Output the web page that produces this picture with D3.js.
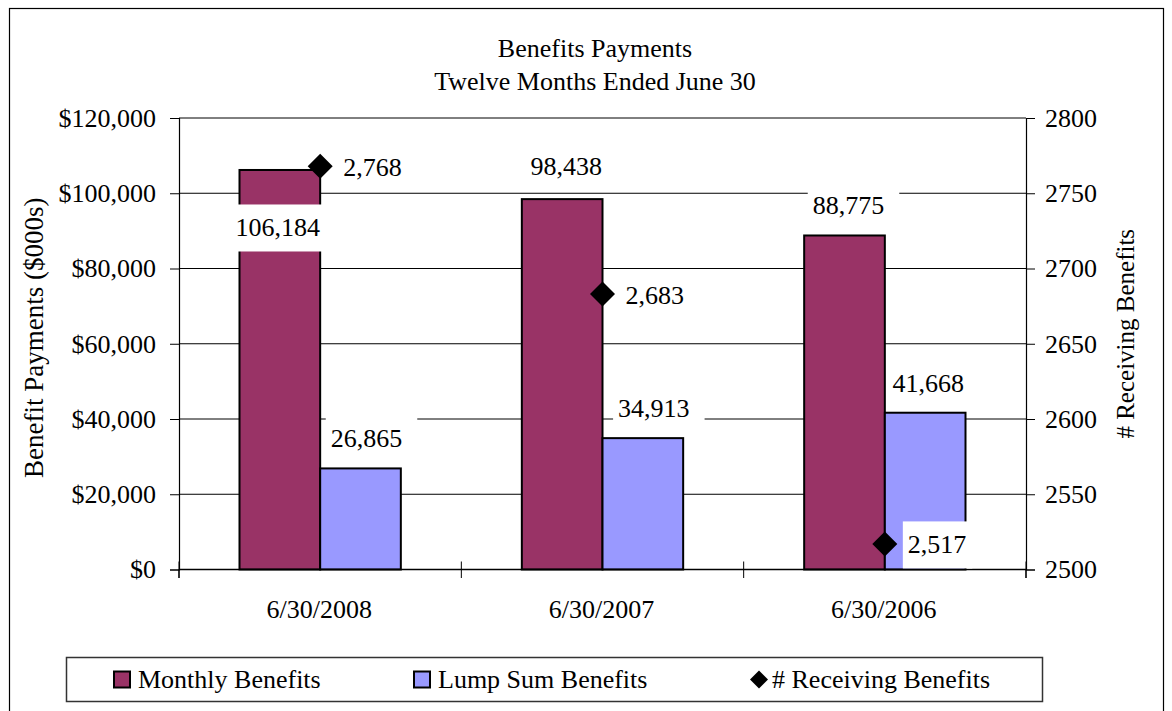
<!DOCTYPE html>
<html>
<head>
<meta charset="utf-8">
<script src="https://cdn.jsdelivr.net/npm/d3@7/dist/d3.min.js"></script>
<style>
  html, body { margin: 0; padding: 0; background: #fff; }
  svg { display: block; }
  text { font-family: "Liberation Serif", "Times New Roman", serif; fill: #000; }
</style>
</head>
<body>
<svg id="chart" width="1172" height="711"></svg>
<script>
// Benefits payments by fiscal year end
const categories = ["6/30/2008", "6/30/2007", "6/30/2006"];
const monthlyBenefits = [106184, 98438, 88775];     // $000s
const lumpSumBenefits = [26865, 34913, 41668];      // $000s
const receivingBenefits = [2768, 2683, 2517];       // count
const leftTicks = [0, 20000, 40000, 60000, 80000, 100000, 120000];
const rightTicks = [2500, 2550, 2600, 2650, 2700, 2750, 2800];
const seriesNames = ["Monthly Benefits", "Lump Sum Benefits", "# Receiving Benefits"];

// label nudges (dx, dy from the default spot) for the bar value labels
const monthlyNudge = [[-2, 58], [4, -33], [4, -30]];
const lumpNudge = [[6, -30], [11, -30], [3, -29]];

const svg = d3.select("#chart");
const FONT = 26;
const colors = { monthly: "#993366", lump: "#9999FF" };

const plot = { left: 179, right: 1026, top: 118, bottom: 569.5 };

// outer chart frame
svg.append("rect")
  .attr("x", 9.5).attr("y", 8.5)
  .attr("width", 1154).attr("height", 720)
  .attr("fill", "#fff").attr("stroke", "#000").attr("stroke-width", 1.2);

// scales
const x0 = d3.scaleBand().domain(categories).range([plot.left, plot.right]).padding(0);
const x1 = d3.scaleBand().domain(["monthly", "lump"]).range([0, x0.bandwidth()])
  .paddingInner(0).paddingOuter(0.75);
const yLeft = d3.scaleLinear().domain([0, 120000]).range([plot.bottom, plot.top]);
const yRight = d3.scaleLinear().domain([2500, 2800]).range([plot.bottom, plot.top]);

// title
const title = svg.append("text")
  .attr("x", 595).attr("text-anchor", "middle")
  .style("font-size", FONT + "px");
title.append("tspan").attr("x", 595).attr("y", 57).text("Benefits Payments");
title.append("tspan").attr("x", 595).attr("y", 90).text("Twelve Months Ended June 30");

// gridlines
svg.append("g").selectAll("line").data(leftTicks.filter(d => d > 0)).join("line")
  .attr("x1", plot.left).attr("x2", plot.right)
  .attr("y1", d => yLeft(d)).attr("y2", d => yLeft(d))
  .attr("stroke", "#000").attr("stroke-width", 1);

// left axis
const leftAxis = d3.axisLeft(yLeft).tickValues(leftTicks)
  .tickFormat(d => "$" + d3.format(",")(d)).tickSize(9).tickPadding(14);
const gL = svg.append("g").attr("transform", `translate(${plot.left},0)`).call(leftAxis);
gL.select(".domain").attr("stroke", "#000").attr("stroke-width", 1.2);
gL.selectAll(".tick line").attr("stroke", "#000");
gL.selectAll(".tick text").style("font-size", FONT + "px")
  .style("font-family", '"Liberation Serif", "Times New Roman", serif').attr("fill", "#000");

// right axis
const rightAxis = d3.axisRight(yRight).tickValues(rightTicks)
  .tickFormat(d3.format("d")).tickSize(9).tickPadding(10);
const gR = svg.append("g").attr("transform", `translate(${plot.right},0)`).call(rightAxis);
gR.select(".domain").attr("stroke", "#000").attr("stroke-width", 1.2);
gR.selectAll(".tick line").attr("stroke", "#000");
gR.selectAll(".tick text").style("font-size", FONT + "px")
  .style("font-family", '"Liberation Serif", "Times New Roman", serif').attr("fill", "#000");

// extend the side axes down to the category tick length
[plot.left, plot.right].forEach(xv => {
  svg.append("line").attr("x1", xv).attr("x2", xv)
    .attr("y1", plot.bottom).attr("y2", plot.bottom + 8.5)
    .attr("stroke", "#000").attr("stroke-width", 1.2);
});

// category axis with crossing ticks on band boundaries
const bounds = categories.map(c => x0(c)).concat([plot.right]);
svg.append("g").selectAll("line").data(bounds).join("line")
  .attr("x1", d => d).attr("x2", d => d)
  .attr("y1", plot.bottom - 8).attr("y2", plot.bottom + 8.5)
  .attr("stroke", "#000").attr("stroke-width", 1);
svg.append("g").selectAll("text").data(categories).join("text")
  .attr("x", d => x0(d) + x0.bandwidth() / 2 - 1)
  .attr("y", plot.bottom + 48)
  .attr("text-anchor", "middle")
  .style("font-size", FONT + "px")
  .text(d => d);

// bars
const barData = [];
categories.forEach((c, i) => {
  barData.push({ cat: c, key: "monthly", value: monthlyBenefits[i], nudge: monthlyNudge[i] });
  barData.push({ cat: c, key: "lump", value: lumpSumBenefits[i], nudge: lumpNudge[i] });
});
svg.append("g").selectAll("rect").data(barData).join("rect")
  .attr("x", d => x0(d.cat) + x1(d.key))
  .attr("y", d => yLeft(d.value))
  .attr("width", x1.bandwidth())
  .attr("height", d => plot.bottom - yLeft(d.value))
  .attr("fill", d => colors[d.key])
  .attr("stroke", "#000").attr("stroke-width", 2);

// bottom axis line drawn over the bars
svg.append("line").attr("x1", plot.left).attr("x2", plot.right)
  .attr("y1", plot.bottom).attr("y2", plot.bottom)
  .attr("stroke", "#000").attr("stroke-width", 1.5);

// diamond markers for # receiving benefits (centred on each category)
const dPath = s => `M0,${-s}L${s},0L0,${s}L${-s},0Z`;
svg.append("g").selectAll("path").data(categories).join("path")
  .attr("transform", (c, i) => `translate(${x0(c) + x0.bandwidth() / 2},${yRight(receivingBenefits[i])})`)
  .attr("d", dPath(12.5))
  .attr("fill", "#000");

// value text with a white backing box
function boxedLabel(parent, cx, cy, str, anchor, padL, padR) {
  const g = parent.append("g");
  const rect = g.append("rect").attr("fill", "#fff");
  const t = g.append("text")
    .attr("x", cx).attr("y", cy)
    .attr("text-anchor", anchor)
    .attr("dominant-baseline", "central")
    .style("font-size", FONT + "px")
    .text(str);
  const bb = t.node().getBBox();
  rect.attr("x", bb.x - padL).attr("y", cy - 23.5)
    .attr("width", bb.width + padL + padR).attr("height", 47);
  return g;
}

const fmt = d3.format(",");
const labelLayer = svg.append("g");
barData.forEach(d => {
  const cx = x0(d.cat) + x1(d.key) + x1.bandwidth() / 2 + d.nudge[0];
  const cy = yLeft(d.value) + d.nudge[1];
  boxedLabel(labelLayer, cx, cy, fmt(d.value), "middle", 5, 15);
});
categories.forEach((c, i) => {
  const cx = x0(c) + x0.bandwidth() / 2 + 23;
  const cy = yRight(receivingBenefits[i]) + 1;
  boxedLabel(labelLayer, cx, cy, fmt(receivingBenefits[i]), "start", 5, 6);
});

// axis titles
svg.append("text")
  .attr("transform", `translate(43,${(plot.top + plot.bottom) / 2 - 6}) rotate(-90)`)
  .attr("text-anchor", "middle")
  .style("font-size", "27px")
  .text("Benefit Payments ($000s)");
svg.append("text")
  .attr("transform", `translate(1134,${(plot.top + plot.bottom) / 2 - 10}) rotate(-90)`)
  .attr("text-anchor", "middle")
  .style("font-size", "25px")
  .text("# Receiving Benefits");

// legend
const legend = svg.append("g");
legend.append("rect")
  .attr("x", 66.5).attr("y", 657.5).attr("width", 976).attr("height", 44)
  .attr("fill", "#fff").attr("stroke", "#333").attr("stroke-width", 1.5);
const legendItems = [
  { name: seriesNames[0], kind: "monthly", x: 113 },
  { name: seriesNames[1], kind: "lump", x: 413 },
  { name: seriesNames[2], kind: "marker", x: 750 }
];
const legendY = 679.5;
legendItems.forEach(it => {
  if (it.kind === "marker") {
    legend.append("path")
      .attr("transform", `translate(${it.x + 9},${legendY})`)
      .attr("d", dPath(9)).attr("fill", "#000");
  } else {
    legend.append("rect")
      .attr("x", it.x + 1).attr("y", legendY - 8)
      .attr("width", 16).attr("height", 16)
      .attr("fill", colors[it.kind]).attr("stroke", "#000").attr("stroke-width", 2);
  }
  legend.append("text")
    .attr("x", it.x + (it.kind === "marker" ? 22 : 25))
    .attr("y", legendY)
    .attr("dominant-baseline", "central")
    .style("font-size", FONT + "px")
    .text(it.name);
});
</script>
</body>
</html>
